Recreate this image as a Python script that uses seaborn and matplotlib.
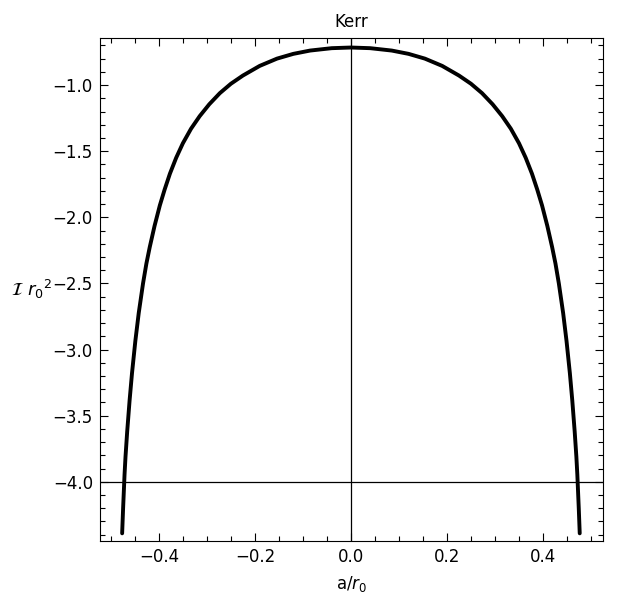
import numpy as np
import pandas as pd
import seaborn as sns
import matplotlib.pyplot as plt
from matplotlib.ticker import MultipleLocator

sns.set_theme(style="ticks")
plt.rcParams['font.family'] = ['DejaVu Sans']
plt.rcParams['mathtext.fontset'] = 'dejavusans'

# datos (mitad izquierda, la curva es simetrica en a)
a_half = [-0.4765, -0.4745, -0.4715, -0.4695, -0.466, -0.461, -0.456, -0.449, -0.442,
          -0.433, -0.426, -0.419, -0.409, -0.398, -0.388, -0.377, -0.364, -0.350,
          -0.333, -0.315, -0.295, -0.273, -0.250, -0.225, -0.190, -0.154, -0.120,
          -0.085, -0.040, 0.0]
I_half = [-4.39, -4.20, -3.945, -3.81, -3.62, -3.385, -3.18, -2.935, -2.725,
          -2.50, -2.35, -2.225, -2.065, -1.91, -1.79, -1.67, -1.55, -1.44,
          -1.33, -1.235, -1.145, -1.061, -0.99, -0.928, -0.855, -0.80, -0.764,
          -0.739, -0.721, -0.716]

a_vals = a_half + [-v for v in reversed(a_half[:-1])]
I_vals = I_half + list(reversed(I_half[:-1]))
df = pd.DataFrame({'a': a_vals, 'I': I_vals})

fig = plt.figure(figsize=(6.2, 6.05), dpi=100)
ax = fig.add_axes([0.161, 0.106, 0.8116, 0.8312])

ax.axvline(0, color='black', lw=0.9, zorder=1)
ax.axhline(-4.0, color='black', lw=0.9, zorder=1)

sns.lineplot(data=df, x='a', y='I', sort=False, estimator=None,
             color='black', lw=2.8, ax=ax, zorder=3)

ax.set_xlim(-0.523, 0.525)
ax.set_ylim(-4.447, -0.644)

ax.xaxis.set_major_locator(MultipleLocator(0.2))
ax.xaxis.set_minor_locator(MultipleLocator(0.05))
ax.yaxis.set_major_locator(MultipleLocator(0.5))
ax.yaxis.set_minor_locator(MultipleLocator(0.1))

ax.tick_params(which='both', direction='in', top=True, right=True,
               color='black', labelcolor='black', width=0.8, labelsize=12, pad=5)
ax.tick_params(which='major', length=6)
ax.tick_params(which='minor', length=3.5)
for s in ax.spines.values():
    s.set_color('black')
    s.set_linewidth(0.8)

ax.set_title('Kerr', fontsize=12, pad=8, color='black')
ax.set_xlabel('a/$r_0$', fontsize=12, labelpad=6, color='black')
ax.set_ylabel(r'$\mathcal{I}\ r_0{}^2$', fontsize=13, rotation=0,
              ha='center', va='center', color='black')
ax.yaxis.set_label_coords(-0.135, 0.50)

plt.savefig('out.png', dpi=100)
plt.close()
